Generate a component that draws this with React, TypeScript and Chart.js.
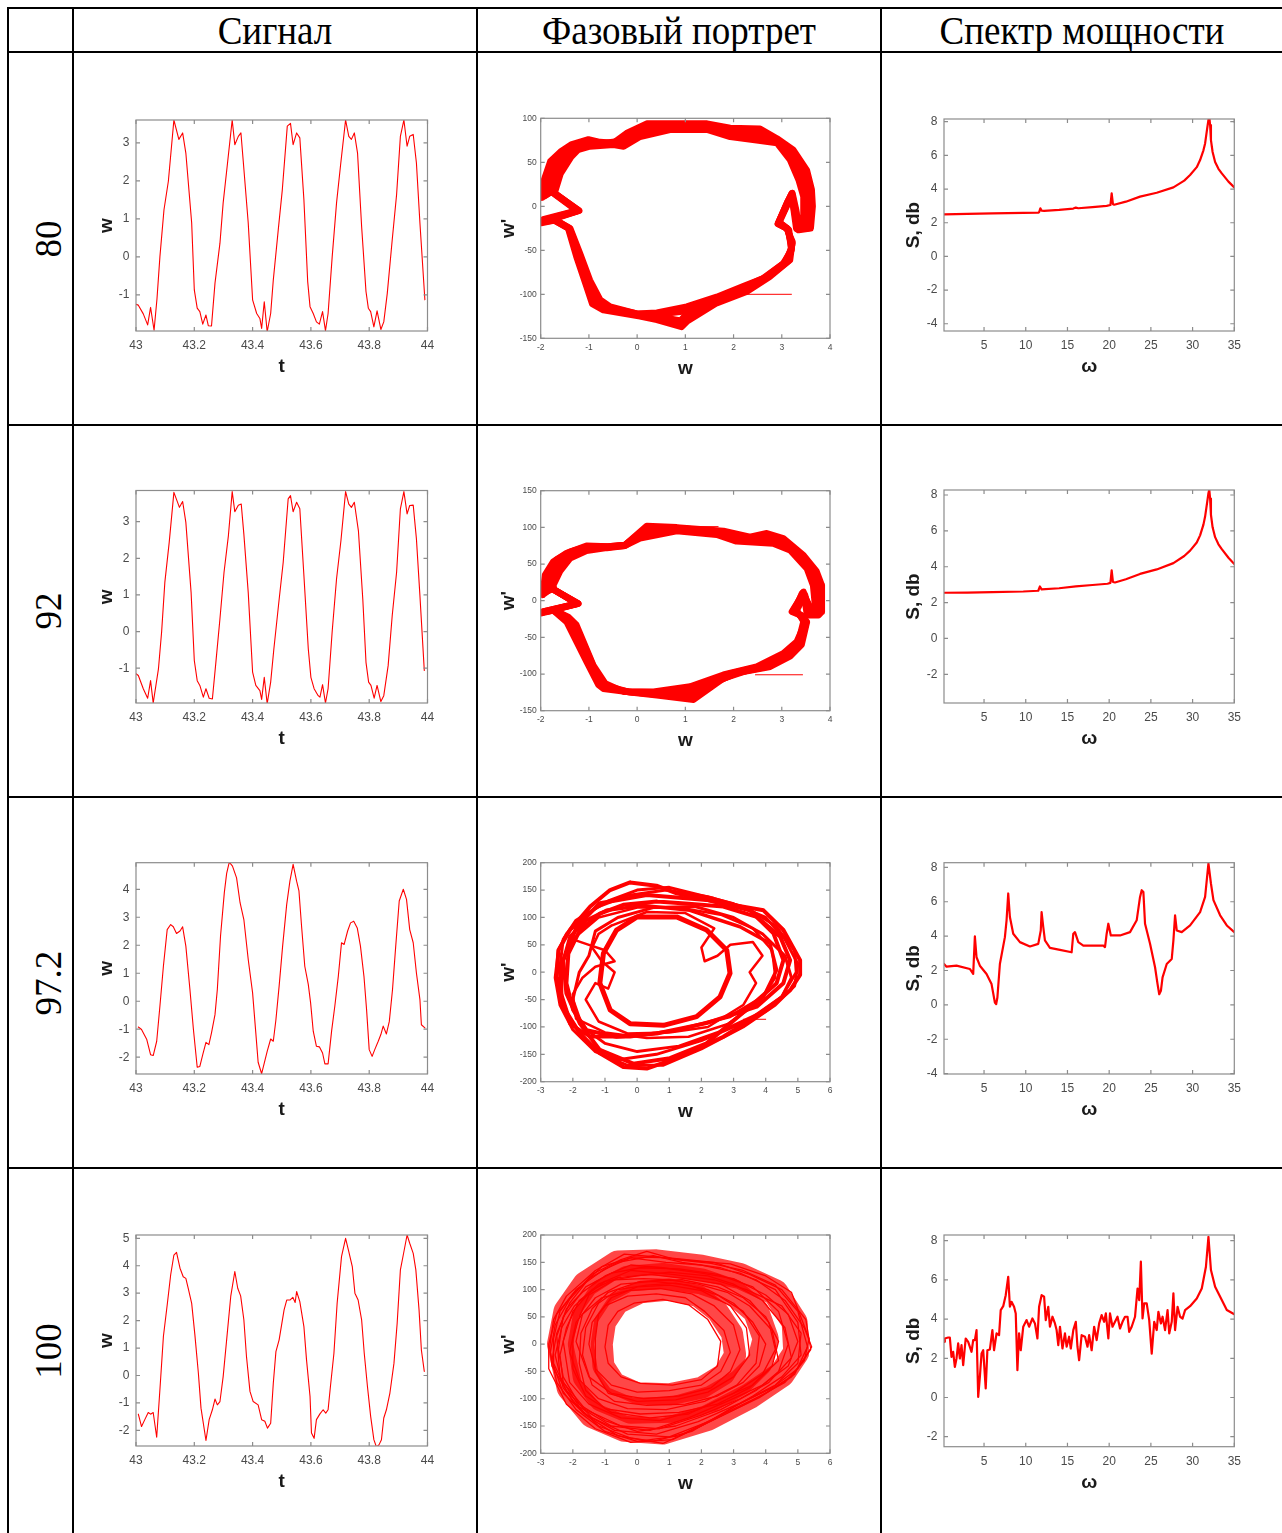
import React, { useEffect, useRef } from 'react';
import { Chart, registerables } from 'chart.js';

Chart.register(...registerables);
Chart.defaults.font.family = "'Liberation Sans', Arial, Helvetica, sans-serif";

type P = [number, number];

// ---------------- text ----------------
const HEADERS = ['Сигнал', 'Фазовый портрет', 'Спектр мощности'];
const ROW_LABELS = ['80', '92', '97.2', '100'];

// ---------------- ticks ----------------
const T_TICKS = [43, 43.2, 43.4, 43.6, 43.8, 44];
const W_TICKS_80 = [-1, 0, 1, 2, 3];
const W_TICKS_97 = [-2, -1, 0, 1, 2, 3, 4];
const W_TICKS_100 = [-2, -1, 0, 1, 2, 3, 4, 5];
const PH_X_TICKS_A = [-2, -1, 0, 1, 2, 3, 4];
const PH_Y_TICKS_80 = [-150, -100, -50, 0, 50, 100];
const PH_Y_TICKS_92 = [-150, -100, -50, 0, 50, 100, 150];
const PH_X_TICKS_B = [-3, -2, -1, 0, 1, 2, 3, 4, 5, 6];
const PH_Y_TICKS_B = [-200, -150, -100, -50, 0, 50, 100, 150, 200];
const OM_TICKS = [5, 10, 15, 20, 25, 30, 35];
const S_TICKS_A = [-4, -2, 0, 2, 4, 6, 8];
const S_TICKS_B = [-2, 0, 2, 4, 6, 8];

// ---------------- signals w(t) ----------------
const SIGNAL_80: P[] = [
  [43.0, -1.25], [43.008, -1.27], [43.025, -1.5], [43.04, -1.79], [43.05, -1.33], [43.062, -1.93], [43.072, -1.1],
  [43.082, 0.0], [43.096, 1.24], [43.111, 1.99], [43.13, 3.6], [43.147, 3.09], [43.16, 3.26], [43.171, 2.73],
  [43.191, 0.89], [43.2, -0.87], [43.21, -1.35], [43.219, -1.44], [43.229, -1.77], [43.24, -1.53], [43.248, -1.81],
  [43.259, -1.82], [43.271, -0.69], [43.288, 0.36], [43.299, 1.42], [43.314, 2.47], [43.33, 3.6], [43.339, 2.95],
  [43.351, 3.17], [43.36, 3.26], [43.368, 2.51], [43.385, 0.89], [43.4, -1.13], [43.414, -1.49], [43.425, -1.62],
  [43.431, -1.88], [43.44, -1.18], [43.45, -1.97], [43.462, -1.49], [43.471, -0.61], [43.488, 0.71], [43.502, 1.77],
  [43.519, 3.44], [43.53, 3.51], [43.539, 2.95], [43.551, 3.26], [43.562, 3.13], [43.576, 1.5], [43.589, -0.65],
  [43.597, -1.31], [43.608, -1.49], [43.619, -1.71], [43.629, -1.77], [43.64, -1.44], [43.65, -1.94], [43.659, -1.49],
  [43.673, 0.0], [43.688, 1.42], [43.702, 2.43], [43.719, 3.6], [43.73, 3.17], [43.739, 3.09], [43.749, 3.26],
  [43.76, 2.73], [43.774, 0.8], [43.789, -0.91], [43.797, -1.35], [43.805, -1.44], [43.816, -1.84], [43.827, -1.42],
  [43.84, -1.91], [43.85, -1.71], [43.862, -0.96], [43.879, 0.45], [43.894, 1.64], [43.907, 3.17], [43.919, 3.6],
  [43.93, 2.91], [43.939, 3.17], [43.951, 3.22], [43.962, 2.47], [43.974, 0.89], [43.991, -1.13],
];

const SIGNAL_92: P[] = [
  [43.0, -1.15], [43.008, -1.2], [43.025, -1.56], [43.04, -1.82], [43.05, -1.34], [43.059, -1.95], [43.077, -1.02],
  [43.088, 0.0], [43.099, 1.35], [43.114, 2.44], [43.13, 3.8], [43.149, 3.39], [43.16, 3.55], [43.171, 2.98],
  [43.189, 1.07], [43.2, -0.79], [43.21, -1.34], [43.219, -1.47], [43.231, -1.79], [43.24, -1.56], [43.251, -1.82],
  [43.262, -1.84], [43.274, -0.84], [43.288, 0.35], [43.302, 1.62], [43.317, 2.62], [43.33, 3.82], [43.339, 3.27],
  [43.351, 3.45], [43.361, 3.48], [43.37, 2.66], [43.385, 1.07], [43.4, -1.11], [43.411, -1.47], [43.425, -1.61],
  [43.431, -1.85], [43.44, -1.25], [43.45, -1.97], [43.462, -1.38], [43.473, -0.47], [43.49, 0.8], [43.505, 1.89],
  [43.522, 3.62], [43.53, 3.71], [43.539, 3.27], [43.551, 3.53], [43.562, 3.35], [43.576, 1.53], [43.591, -0.47],
  [43.6, -1.25], [43.611, -1.56], [43.625, -1.75], [43.631, -1.79], [43.64, -1.45], [43.65, -1.95], [43.659, -1.56],
  [43.673, 0.0], [43.688, 1.44], [43.703, 2.48], [43.719, 3.82], [43.73, 3.48], [43.739, 3.39], [43.749, 3.53],
  [43.763, 2.75], [43.778, 0.89], [43.789, -0.84], [43.798, -1.38], [43.806, -1.47], [43.817, -1.82], [43.827, -1.47],
  [43.84, -1.91], [43.85, -1.75], [43.865, -0.93], [43.879, 0.44], [43.894, 1.62], [43.907, 3.35], [43.919, 3.82],
  [43.93, 3.21], [43.939, 3.44], [43.951, 3.45], [43.962, 2.53], [43.974, 0.98], [43.989, -1.06],
];

const SIGNAL_97: P[] = [
  [43.008, -0.92], [43.019, -1.01], [43.037, -1.37], [43.05, -1.91], [43.059, -1.94], [43.071, -1.43], [43.082, -0.18],
  [43.094, 1.25], [43.107, 2.56], [43.119, 2.74], [43.128, 2.66], [43.139, 2.42], [43.151, 2.51], [43.16, 2.66],
  [43.171, 1.97], [43.185, 0.42], [43.197, -1.01], [43.21, -2.36], [43.219, -2.33], [43.229, -1.91], [43.24, -1.47],
  [43.25, -1.55], [43.259, -1.13], [43.271, -0.48], [43.279, 0.42], [43.29, 2.33], [43.303, 3.88], [43.311, 4.57],
  [43.32, 4.97], [43.331, 4.83], [43.345, 4.41], [43.357, 3.52], [43.37, 2.92], [43.385, 1.49], [43.4, 0.3],
  [43.411, -1.13], [43.419, -2.18], [43.431, -2.59], [43.44, -2.21], [43.45, -1.79], [43.462, -1.35], [43.471, -1.43],
  [43.48, -0.66], [43.491, 0.54], [43.503, 1.97], [43.517, 3.46], [43.528, 4.29], [43.539, 4.89], [43.551, 4.29],
  [43.559, 3.94], [43.568, 2.68], [43.579, 1.25], [43.591, 0.6], [43.599, -0.06], [43.608, -1.07], [43.619, -1.61],
  [43.629, -1.63], [43.64, -1.85], [43.648, -2.24], [43.659, -2.24], [43.671, -1.07], [43.682, -0.18], [43.694, 0.89],
  [43.705, 2.09], [43.714, 2.03], [43.726, 2.51], [43.736, 2.8], [43.747, 2.86], [43.759, 2.62], [43.77, 1.97],
  [43.782, 0.89], [43.791, -0.3], [43.8, -1.73], [43.81, -1.97], [43.819, -1.73], [43.831, -1.43], [43.84, -1.19],
  [43.848, -0.89], [43.859, -1.17], [43.869, -0.72], [43.88, 0.42], [43.891, 1.97], [43.903, 3.58], [43.917, 4.0],
  [43.928, 3.64], [43.939, 2.56], [43.951, 2.09], [43.962, 1.01], [43.974, 0.06], [43.979, -0.84], [43.991, -0.95],
];

const SIGNAL_100: P[] = [
  [43.008, -1.41], [43.019, -1.86], [43.031, -1.59], [43.042, -1.35], [43.05, -1.41], [43.059, -1.35], [43.071, -2.25],
  [43.082, -0.52], [43.094, 1.42], [43.107, 2.57], [43.119, 3.67], [43.13, 4.39], [43.139, 4.49], [43.151, 3.91],
  [43.162, 3.6], [43.171, 3.54], [43.179, 3.18], [43.191, 2.63], [43.202, 1.48], [43.214, 0.08], [43.223, -1.19],
  [43.24, -2.37], [43.251, -1.61], [43.262, -1.25], [43.271, -0.86], [43.279, -1.07], [43.288, -0.95], [43.299, -0.04],
  [43.311, 1.3], [43.325, 2.88], [43.339, 3.79], [43.349, 3.18], [43.359, 2.9], [43.37, 2.03], [43.379, 0.69],
  [43.391, -0.58], [43.402, -0.95], [43.419, -1.07], [43.431, -1.61], [43.442, -1.67], [43.451, -1.92], [43.462, -1.74],
  [43.471, -0.28], [43.48, 0.87], [43.491, 1.3], [43.508, 2.39], [43.517, 2.75], [43.528, 2.75], [43.538, 2.85],
  [43.546, 2.66], [43.551, 3.06], [43.562, 2.69], [43.576, 1.78], [43.585, 0.57], [43.597, -0.76], [43.602, -2.1],
  [43.611, -2.29], [43.619, -1.61], [43.631, -1.4], [43.642, -1.25], [43.651, -1.37], [43.659, -1.25], [43.667, -0.4],
  [43.679, 0.81], [43.69, 2.63], [43.705, 4.33], [43.719, 5.0], [43.73, 4.51], [43.742, 3.97], [43.751, 3.0],
  [43.762, 2.75], [43.774, 2.03], [43.783, 0.81], [43.794, -0.4], [43.805, -1.49], [43.816, -2.34], [43.825, -2.61],
  [43.834, -2.52], [43.842, -2.34], [43.85, -1.55], [43.859, -1.25], [43.871, -0.64], [43.885, 0.45], [43.896, 1.91],
  [43.907, 3.85], [43.919, 4.51], [43.93, 5.12], [43.939, 4.82], [43.951, 4.45], [43.96, 3.85], [43.971, 2.39],
  [43.979, 0.93], [43.989, 0.15],
];

// ---------------- phase portraits (w, w') ----------------
const PHASE80_OUTER: P[] = [
  [-1.97, 10], [-1.93, 30], [-1.8, 51], [-1.59, 62], [-1.37, 70], [-1.01, 76], [-0.77, 73], [-0.49, 72], [-0.22, 83],
  [0.2, 94], [0.8, 94], [1.45, 94], [1.93, 89], [2.55, 88], [2.9, 77], [3.24, 64], [3.52, 41], [3.62, 19], [3.64, 0],
  [3.6, -25], [3.35, -27], [3.3, -5], [3.22, 15], [3.12, 5], [2.92, -20], [3.1, -25], [3.22, -40], [3.17, -61],
  [2.75, -80], [2.27, -97], [1.65, -110], [1.03, -131], [0.92, -137], [0.41, -129], [0.06, -125], [-0.7, -118],
  [-0.93, -111], [-1.05, -91], [-1.26, -57], [-1.43, -25], [-1.71, -16], [-1.99, -19], [-1.2, -5], [-1.77, 17], [-1.97, 10],
];
const PHASE80_OUTER_MID: P[] = [
  [-1.91, 12], [-1.84, 33], [-1.7, 52], [-1.5, 63], [-1.0, 74], [-0.68, 72], [-0.37, 74], [0.18, 91], [0.8, 93],
  [1.45, 93], [1.93, 87], [2.52, 85], [2.9, 76], [3.22, 62], [3.49, 39], [3.59, 17], [3.6, -3], [3.55, -25],
  [3.32, -26], [3.28, -5], [3.21, 15], [3.11, 4], [2.92, -20], [3.11, -25], [3.22, -42], [3.14, -62], [2.72, -80],
  [2.25, -96], [1.65, -109], [1.02, -128], [0.91, -134], [0.4, -127], [0.03, -124], [-0.68, -117], [-0.89, -110],
  [-1.04, -90], [-1.24, -56], [-1.42, -25], [-1.72, -16], [-1.98, -18], [-1.21, -5], [-1.76, 17], [-1.91, 12],
];
const PHASE80_MID: P[] = [
  [-1.85, 15], [-1.75, 35], [-1.6, 52], [-1.4, 63], [-1.0, 72], [-0.6, 71], [-0.25, 76], [0.15, 88], [0.8, 91],
  [1.45, 91], [1.93, 84], [2.5, 81], [2.9, 75], [3.2, 59], [3.45, 36], [3.55, 15], [3.55, -5], [3.5, -24], [3.3, -25],
  [3.25, -5], [3.2, 14], [3.1, 2], [2.93, -19], [3.12, -26], [3.21, -45], [3.1, -63], [2.68, -81], [2.23, -94],
  [1.65, -107], [1.0, -124], [0.9, -130], [0.4, -125], [0.0, -123], [-0.65, -116], [-0.85, -108], [-1.02, -88],
  [-1.22, -55], [-1.41, -25], [-1.73, -15], [-1.97, -17], [-1.22, -5], [-1.75, 16], [-1.85, 15],
];
const PHASE80_INNER_MID: P[] = [
  [-1.77, 17], [-1.67, 36], [-1.49, 54], [-1.32, 63], [-0.99, 70], [-0.55, 70], [-0.27, 72], [0.1, 83], [0.75, 89],
  [1.45, 89], [1.93, 81], [2.49, 78], [2.9, 73], [3.19, 56], [3.4, 33], [3.5, 13], [3.5, -7], [3.42, -23],
  [3.29, -14], [3.2, 13], [3.1, 1], [2.94, -18], [3.13, -26], [3.2, -48], [3.06, -64], [2.65, -81], [2.21, -92],
  [1.65, -105], [1.02, -119], [0.41, -123], [0.0, -122], [-0.6, -115], [-0.81, -107], [-1.0, -86], [-1.2, -54],
  [-1.4, -25], [-1.74, -14], [-1.96, -16], [-1.23, -5], [-1.73, 15], [-1.77, 17],
];
const PHASE80_INNER: P[] = [
  [-1.69, 19], [-1.59, 37], [-1.37, 56], [-1.23, 64], [-0.98, 68], [-0.49, 70], [-0.28, 68], [0.06, 79], [0.68, 87],
  [1.45, 87], [1.93, 79], [2.48, 75], [2.9, 72], [3.17, 53], [3.35, 30], [3.45, 11], [3.45, -10], [3.35, -22],
  [3.28, -3], [3.2, 12], [3.1, 0], [2.95, -18], [3.15, -27], [3.2, -50], [3.03, -65], [2.61, -82], [2.2, -91],
  [1.65, -103], [1.03, -114], [0.41, -121], [-0.01, -122], [-0.56, -114], [-0.77, -106], [-0.98, -84], [-1.19, -53],
  [-1.39, -25], [-1.75, -14], [-1.95, -15], [-1.25, -5], [-1.72, 14], [-1.69, 19],
];
const PHASE80_LINE: P[] = [[2.27, -100], [3.2, -100]];

const PHASE92_OUTER: P[] = [
  [-1.96, 8], [-1.91, 35], [-1.74, 53], [-1.46, 65], [-1.05, 75], [-0.6, 74], [-0.25, 76], [0.2, 102], [0.82, 100],
  [1.79, 95], [2.34, 87], [2.69, 92], [3.03, 85], [3.45, 62], [3.72, 40], [3.83, 21], [3.83, -15], [3.76, -20],
  [3.55, -20], [3.5, 0], [3.45, 12], [3.35, 0], [3.21, -15], [3.4, -20], [3.52, -29], [3.41, -60], [3.17, -76],
  [2.76, -90], [2.2, -97], [1.79, -106], [1.17, -135], [0.41, -129], [-0.01, -126], [-0.7, -120], [-0.8, -115],
  [-1.05, -83], [-1.46, -29], [-1.74, -13], [-1.98, -17], [-1.22, -4], [-1.77, 17], [-1.96, 8],
];
const PHASE92_OUTER_MID: P[] = [
  [-1.9, 12], [-1.85, 38], [-1.67, 56], [-1.38, 67], [-1.02, 74], [-0.6, 74], [-0.25, 76], [0.18, 99], [0.82, 99],
  [1.75, 94], [2.27, 86], [2.72, 89], [3.07, 82], [3.48, 58], [3.71, 35], [3.79, 13], [3.77, -15], [3.64, -19],
  [3.5, 2], [3.44, 11], [3.34, -2], [3.23, -14], [3.42, -21], [3.51, -29], [3.39, -59], [3.14, -75], [2.68, -90],
  [2.1, -98], [1.65, -110], [1.16, -130], [0.4, -128], [-0.08, -125], [-0.7, -118], [-0.83, -108], [-1.1, -70],
  [-1.45, -27], [-1.74, -13], [-1.97, -16], [-1.22, -4], [-1.76, 16], [-1.9, 12],
];
const PHASE92_MID: P[] = [
  [-1.85, 15], [-1.8, 40], [-1.6, 58], [-1.3, 68], [-1.0, 72], [-0.6, 73], [-0.25, 76], [0.15, 95], [0.82, 98],
  [1.72, 93], [2.2, 84], [2.75, 86], [3.1, 78], [3.5, 53], [3.7, 30], [3.75, 5], [3.7, -15], [3.52, -18], [3.47, 5],
  [3.42, 10], [3.32, -5], [3.25, -14], [3.45, -22], [3.5, -30], [3.36, -58], [3.1, -74], [2.6, -90], [2.0, -100],
  [1.5, -115], [1.15, -126], [0.38, -127], [-0.15, -125], [-0.7, -117], [-0.85, -100], [-1.15, -58], [-1.45, -25],
  [-1.74, -13], [-1.97, -16], [-1.23, -4], [-1.75, 16], [-1.85, 15],
];
const PHASE92_INNER_MID: P[] = [
  [-1.8, 18], [-1.7, 40], [-1.5, 58], [-1.18, 68], [-0.82, 72], [-0.25, 75], [0.1, 90], [0.82, 96], [1.68, 91],
  [2.13, 82], [2.78, 82], [3.13, 73], [3.51, 48], [3.67, 25], [3.72, 0], [3.64, -15], [3.47, 6], [3.32, -9],
  [3.27, -13], [3.46, -26], [3.34, -57], [3.06, -73], [2.54, -90], [1.9, -100], [1.3, -116], [1.12, -121],
  [0.36, -125], [-0.2, -124], [-0.68, -115], [-0.88, -94], [-1.2, -45], [-1.44, -23], [-1.74, -12], [-1.96, -15],
  [-1.24, -4], [-1.73, 15], [-1.8, 18],
];
const PHASE92_INNER: P[] = [
  [-1.74, 21], [-1.6, 40], [-1.39, 58], [-1.05, 68], [-0.63, 72], [-0.25, 75], [0.06, 85], [0.82, 95], [1.65, 90],
  [2.06, 81], [2.82, 78], [3.17, 69], [3.52, 44], [3.65, 21], [3.69, -6], [3.58, -15], [3.48, 8], [3.31, -13],
  [3.48, -31], [3.31, -56], [3.03, -72], [2.48, -90], [1.79, -101], [1.1, -117], [0.34, -124], [-0.28, -124],
  [-0.66, -113], [-0.91, -88], [-1.26, -33], [-1.43, -22], [-1.75, -12], [-1.95, -15], [-1.25, -4], [-1.72, 15], [-1.74, 21],
];
const PHASE92_LINE_TOP: P[] = [[0.27, 101], [1.68, 101]];
const PHASE92_LINE_BOTTOM: P[] = [[2.45, -101], [3.43, -101]];

const PHASE97_L1: P[] = [
  [-0.22, 164], [0.6, 158], [1.23, 144], [2.5, 128], [3.93, 113], [4.55, 77], [5.07, 22], [5.07, -5], [4.76, -33],
  [4.03, -69], [2.68, -118], [1.23, -157], [0.3, -176], [-0.43, -173], [-1.16, -148], [-1.78, -112], [-2.3, -63],
  [-2.5, -8], [-2.45, 40], [-2.09, 77], [-1.46, 120], [-0.84, 150], [-0.22, 164],
];
const PHASE97_L2: P[] = [
  [0.61, 129], [1.6, 125], [2.68, 120], [3.72, 101], [4.45, 65], [4.76, 22], [4.55, -20], [3.72, -63], [2.16, -93],
  [0.61, -112], [-0.64, -118], [-1.57, -106], [-1.99, -69], [-2.2, -20], [-2.14, 34], [-1.78, 77], [-1.16, 107],
  [-0.43, 123], [0.61, 129],
];
const PHASE97_L3: P[] = [
  [-0.64, 77], [0, 101], [1.23, 101], [2.16, 77], [2.79, 40], [2.89, -2], [2.58, -45], [1.85, -81], [0.82, -97],
  [-0.22, -94], [-0.84, -69], [-1.16, -20], [-1.05, 34], [-0.64, 77],
];
const PHASE97_L4: P[] = [
  [-0.95, 113], [0.2, 122], [1.64, 113], [3.2, 83], [4.13, 53], [4.34, 4], [3.93, -45], [2.89, -81], [1.23, -106],
  [-0.22, -118], [-1.46, -118], [-2.09, -94], [-2.35, -51], [-2.35, 10], [-2.09, 65], [-1.57, 95], [-0.95, 113],
];
const PHASE97_L5: P[] = [
  [-1.88, 83], [-1.16, 126], [0.3, 141], [2.16, 132], [3.51, 113], [4.24, 71], [4.55, 22], [4.34, -20], [3.51, -63],
  [2.16, -130], [1.02, -157], [-0.12, -167], [-1.16, -142], [-1.78, -94], [-2.2, -39], [-2.3, 22], [-1.88, 83],
];
const PHASE97_L6: P[] = [
  [-0.8, 85], [0.3, 110], [1.5, 108], [2.4, 80], [2.0, 45], [2.1, 20], [2.5, 30], [2.9, 50], [3.6, 55], [3.9, 30],
  [3.5, 0], [3.7, -20], [3.3, -60], [2.2, -100], [1.0, -110], [-0.3, -112], [-1.2, -90], [-1.6, -50], [-1.3, -20],
  [-0.9, -30], [-0.7, 0], [-1.1, 20], [-1.4, 45], [-1.2, 70], [-0.8, 85],
];
const PHASE97_L7: P[] = [
  [-2.0, 60], [-1.5, 50], [-1.0, 40], [-0.7, 20], [-1.3, 10], [-1.7, -10], [-2.0, -40], [-1.9, -85], [-1.0, -110],
  [0.3, -120], [1.6, -118], [2.8, -95], [3.8, -55], [4.3, -10], [4.2, 40], [3.6, 80], [2.6, 105], [1.3, 118],
  [0.0, 118], [-1.2, 100], [-2.0, 60],
];
const PHASE97_L8: P[] = [
  [-1.5, 30], [-1.3, 75], [-0.6, 100], [0.5, 118], [1.8, 120], [3.0, 100], [3.9, 70], [4.6, 30], [4.8, -10],
  [4.5, -45], [3.8, -75], [2.6, -108], [1.3, -135], [0.0, -145], [-1.0, -130], [-1.7, -100], [-2.0, -50], [-1.8, 0], [-1.5, 30],
];
const PHASE97_L9: P[] = [
  [-2.4, 10], [-2.3, 60], [-1.9, 95], [-1.2, 120], [-0.3, 140], [0.9, 150], [2.2, 138], [3.4, 118], [4.3, 85],
  [4.9, 40], [4.95, 0], [4.5, -45], [3.4, -90], [2.0, -125], [0.6, -150], [-0.6, -160], [-1.5, -130], [-2.1, -85],
  [-2.4, -30], [-2.4, 10],
];
const PHASE97_L10: P[] = [
  [-2.55, -10], [-2.45, 40], [-2.2, 70], [-1.6, 105], [-0.9, 130], [0.0, 150], [1.0, 155], [2.0, 140], [3.0, 125],
  [4.0, 100], [4.6, 60], [5.0, 15], [4.9, -25], [4.3, -60], [3.3, -100], [2.0, -140], [0.8, -170], [-0.3, -170],
  [-1.3, -145], [-2.0, -105], [-2.4, -60], [-2.55, -10],
];
const PHASE97_LINE_TOP: P[] = [[1.44, 137], [2.37, 137]];
const PHASE97_LINE_BOTTOM: P[] = [[3.3, -86], [4.0, -86]];

const PHASE100_L1: P[] = [[-2.72, -5], [-2.6, 45], [-2.2, 88], [-1.3, 135], [-0.4, 165], [0.6, 160], [1.8, 152], [2.9, 147], [4.0, 125], [4.8, 95], [5.35, 10], [5.2, -30], [4.6, -70], [3.3, -112], [2.0, -150], [0.8, -182], [-0.2, -172], [-1.2, -150], [-2.0, -105], [-2.65, -40], [-2.72, -5]];
const PHASE100_L2: P[] = [[-2.6, 10], [-2.4, 60], [-1.9, 100], [-1.0, 138], [-0.2, 158], [0.9, 150], [2.0, 145], [3.2, 130], [4.3, 100], [5.0, 40], [5.1, -20], [4.5, -60], [3.6, -95], [2.3, -140], [1.0, -170], [-0.3, -165], [-1.4, -135], [-2.2, -85], [-2.6, -35], [-2.6, 10]];
const PHASE100_L3: P[] = [[-2.45, -10], [-2.3, 50], [-1.6, 105], [-0.8, 130], [0.1, 140], [1.3, 138], [2.5, 128], [3.6, 105], [4.4, 60], [4.7, 0], [4.4, -50], [3.7, -85], [2.6, -120], [1.2, -150], [0.0, -160], [-1.0, -140], [-1.8, -110], [-2.3, -60], [-2.45, -10]];
const PHASE100_L4: P[] = [[-2.3, 5], [-2.0, 60], [-1.4, 100], [-0.6, 122], [0.4, 128], [1.5, 120], [2.6, 110], [3.5, 80], [4.1, 40], [4.3, -10], [3.9, -55], [3.0, -90], [1.9, -120], [0.7, -140], [-0.5, -135], [-1.5, -110], [-2.1, -70], [-2.3, 5]];
const PHASE100_L5: P[] = [[-2.1, -15], [-1.9, 40], [-1.3, 85], [-0.5, 110], [0.5, 115], [1.6, 108], [2.5, 90], [3.3, 60], [3.8, 15], [3.7, -35], [3.1, -75], [2.1, -105], [0.9, -120], [-0.3, -118], [-1.2, -100], [-1.8, -65], [-2.1, -15]];
const PHASE100_L6: P[] = [[-1.9, 5], [-1.7, 55], [-1.1, 85], [-0.3, 98], [0.7, 102], [1.7, 92], [2.4, 70], [3.0, 35], [3.2, -10], [2.9, -50], [2.3, -80], [1.3, -95], [0.2, -100], [-0.8, -90], [-1.5, -60], [-1.9, 5]];
const PHASE100_L7: P[] = [[-1.5, 0], [-1.4, 40], [-1.0, 70], [-0.3, 88], [0.6, 92], [1.5, 85], [2.1, 60], [2.7, 25], [2.9, -15], [2.6, -50], [2.0, -75], [1.0, -85], [0.0, -88], [-0.8, -75], [-1.3, -45], [-1.5, 0]];
const PHASE100_L8: P[] = [[-2.65, -30], [-2.5, 20], [-2.1, 75], [-1.5, 120], [-0.6, 150], [0.5, 162], [1.4, 150], [2.6, 140], [3.7, 118], [4.6, 80], [5.2, 30], [5.43, -5], [5.0, -45], [4.2, -80], [3.0, -115], [1.7, -160], [0.5, -178], [-0.6, -168], [-1.6, -130], [-2.3, -90], [-2.65, -30]];
const PHASE100_L9: P[] = [[-2.2, 30], [-1.8, 80], [-1.0, 115], [0.0, 125], [1.0, 132], [2.2, 125], [3.0, 110], [3.9, 80], [4.6, 30], [4.8, -25], [4.1, -70], [3.2, -100], [2.0, -130], [0.7, -155], [-0.5, -150], [-1.6, -120], [-2.3, -70], [-2.4, -20], [-2.2, 30]];
const PHASE100_L10: P[] = [[-1.7, -20], [-1.6, 30], [-1.2, 75], [-0.6, 100], [0.3, 108], [1.2, 112], [2.2, 100], [3.0, 75], [3.6, 40], [4.0, 0], [3.8, -40], [3.3, -70], [2.5, -95], [1.5, -110], [0.3, -112], [-0.7, -105], [-1.4, -75], [-1.7, -20]];
const PHASE100_L11: P[] = [[-2.5, 15], [-2.2, 65], [-1.7, 95], [-1.0, 125], [-0.2, 145], [0.8, 140], [2.0, 130], [3.0, 120], [4.0, 90], [4.7, 55], [5.0, 5], [4.7, -40], [3.9, -75], [2.8, -105], [1.6, -135], [0.4, -158], [-0.8, -150], [-1.8, -115], [-2.4, -60], [-2.5, 15]];
const PHASE100_L12: P[] = [[-1.0, -5], [-0.9, 35], [-0.6, 60], [-0.1, 75], [0.8, 82], [1.6, 72], [2.2, 45], [2.6, 5], [2.5, -40], [2.0, -65], [1.1, -75], [0.1, -72], [-0.5, -60], [-0.9, -35], [-1.0, -5]];
const PHASE100_L13: P[] = [[-2.7, -15], [-2.55, 35], [-2.1, 82], [-1.4, 128], [-0.5, 155], [0.3, 170], [1.2, 155], [2.3, 148], [3.3, 135], [4.3, 108], [5.0, 60], [5.3, -5], [4.9, -55], [4.0, -90], [2.6, -130], [1.3, -168], [0.0, -178], [-1.0, -160], [-1.9, -120], [-2.5, -70], [-2.7, -15]];
const PHASE100_L14: P[] = [[-2.0, 10], [-1.8, 50], [-1.5, 90], [-0.7, 118], [0.2, 120], [1.0, 118], [1.9, 110], [2.8, 95], [3.5, 70], [4.2, 25], [4.4, -30], [3.6, -75], [2.6, -100], [1.6, -128], [0.4, -135], [-0.8, -125], [-1.6, -95], [-2.0, -45], [-2.0, 10]];
const PHASE100_L15: P[] = [[-2.55, -20], [-2.35, 30], [-1.95, 70], [-1.2, 110], [-0.2, 135], [1.1, 128], [2.4, 118], [3.4, 100], [4.5, 70], [5.1, 20], [5.0, -35], [4.3, -75], [3.2, -108], [1.9, -142], [0.6, -165], [-0.7, -158], [-1.7, -125], [-2.3, -80], [-2.55, -20]];
const PHASE100_L16: P[] = [[-1.3, 10], [-1.2, 55], [-0.8, 85], [0.0, 105], [1.0, 108], [2.0, 98], [2.9, 70], [3.4, 30], [3.5, -20], [3.0, -60], [2.2, -88], [1.2, -102], [0.0, -105], [-0.9, -90], [-1.3, -50], [-1.3, 10]];
const PHASE100_L17: P[] = [[-2.75, 0], [-2.5, 55], [-2.0, 92], [-1.1, 142], [-0.1, 160], [1.0, 158], [2.4, 150], [3.5, 128], [4.5, 100], [5.25, 45], [5.4, -10], [4.8, -60], [3.8, -98], [2.4, -138], [1.1, -175], [-0.2, -180], [-1.3, -155], [-2.2, -110], [-2.75, -45], [-2.75, 0]];
const PHASE100_L18: P[] = [[-1.8, -35], [-1.75, 20], [-1.4, 65], [-0.9, 95], [0.1, 115], [1.4, 118], [2.5, 105], [3.3, 85], [4.0, 50], [4.4, 5], [4.2, -40], [3.5, -80], [2.5, -110], [1.3, -125], [0.1, -128], [-1.0, -118], [-1.6, -85], [-1.8, -35]];
// dense-cloud backing strips (band centres)
const PHASE100_BAND_OUT: P[] = [[-2.4, 0], [-2.2, 60], [-1.6, 110], [-0.6, 148], [0.6, 150], [2.0, 140], [3.2, 125], [4.3, 95], [4.9, 40], [4.95, -15], [4.5, -55], [3.5, -95], [2.2, -135], [0.8, -160], [-0.4, -155], [-1.4, -130], [-2.1, -80], [-2.4, 0]];
const PHASE100_BAND_MID: P[] = [[-1.75, 0], [-1.6, 50], [-1.1, 95], [-0.3, 120], [0.8, 125], [2.0, 115], [3.0, 95], [3.7, 60], [4.0, 10], [3.8, -35], [3.2, -70], [2.3, -100], [1.1, -120], [-0.2, -122], [-1.1, -100], [-1.6, -60], [-1.75, 0]];
const PHASE100_BAND_IN: P[] = [[-1.1, 0], [-1.0, 40], [-0.6, 75], [0.1, 95], [1.0, 100], [1.9, 88], [2.5, 60], [2.95, 20], [3.05, -20], [2.7, -55], [2.0, -80], [1.0, -92], [0.0, -90], [-0.7, -72], [-1.05, -40], [-1.1, 0]];

// ---------------- power spectra S(ω), db ----------------
const SPEC_80: P[] = [
  [0.2, 2.5], [3, 2.52], [6, 2.55], [9.7, 2.59], [11.5, 2.6], [11.6, 2.62], [11.75, 2.85], [11.9, 2.72], [12.2, 2.7],
  [14, 2.76], [15.7, 2.84], [16.0, 2.9], [16.3, 2.86], [18, 2.93], [19.7, 3.0], [20.15, 3.05], [20.3, 3.75],
  [20.45, 3.1], [20.6, 3.07], [22, 3.25], [23.7, 3.55], [25.7, 3.78], [27.7, 4.1], [29.0, 4.5], [29.7, 4.83],
  [30.5, 5.3], [30.9, 5.72], [31.3, 6.3], [31.5, 6.71], [31.75, 7.6], [31.9, 8.1], [32.0, 8.3], [32.1, 7.8],
  [32.2, 6.9], [32.4, 6.2], [32.7, 5.6], [33.1, 5.2], [33.5, 4.93], [34.3, 4.44], [35, 4.1],
];
const SPEC_92: P[] = [
  [0.2, 2.55], [3, 2.56], [6, 2.58], [9.7, 2.62], [11.5, 2.66], [11.7, 2.9], [11.9, 2.74], [14, 2.8], [16, 2.9],
  [18, 2.98], [19.8, 3.05], [20.15, 3.1], [20.3, 3.8], [20.45, 3.15], [20.7, 3.12], [22, 3.3], [23.7, 3.6],
  [25.7, 3.85], [27.7, 4.2], [29.0, 4.6], [29.7, 4.9], [30.5, 5.35], [30.9, 5.75], [31.3, 6.35], [31.5, 6.8],
  [31.75, 7.6], [31.9, 8.1], [32.0, 8.3], [32.1, 7.8], [32.2, 6.9], [32.4, 6.2], [32.7, 5.65], [33.1, 5.25],
  [33.5, 4.98], [34.3, 4.5], [35, 4.15],
];
const SPEC_97: P[] = [
  [0.2, 2.38], [0.5, 2.22], [1.7, 2.28], [3.3, 2.09], [3.7, 1.8], [3.9, 3.98], [4.1, 2.77], [4.5, 2.28], [5.3, 1.8],
  [5.9, 1.21], [6.3, 0.14], [6.45, 0.04], [6.6, 0.43], [6.9, 2.38], [7.5, 3.94], [7.7, 4.92], [7.9, 6.48], [8.1, 5.11],
  [8.5, 4.14], [9.3, 3.65], [10.5, 3.4], [11.5, 3.55], [11.8, 4.33], [11.9, 5.4], [12.1, 4.53], [12.3, 3.75],
  [12.9, 3.32], [14.1, 3.2], [15.5, 3.06], [15.7, 4.14], [15.9, 4.23], [16.3, 3.65], [16.9, 3.45], [19.3, 3.45],
  [19.5, 3.36], [19.7, 4.14], [19.9, 4.72], [20.2, 4.04], [21.3, 4.04], [22.5, 4.23], [23.3, 4.92], [23.7, 6.28],
  [23.9, 6.67], [24.1, 6.57], [24.3, 4.72], [24.9, 3.55], [25.5, 2.19], [25.8, 1.21], [26.0, 0.62], [26.2, 0.82],
  [26.4, 1.6], [26.9, 2.38], [27.5, 2.67], [27.7, 3.75], [27.9, 5.21], [28.1, 4.33], [28.7, 4.23], [29.7, 4.62],
  [30.9, 5.4], [31.5, 6.28], [31.9, 8.23], [32.2, 7.06], [32.5, 6.09], [33.3, 5.21], [34.1, 4.62], [35.0, 4.23],
];
const SPEC_100: P[] = [
  [0.2, 2.84], [0.3, 3.01], [0.7, 3.06], [0.9, 3.06], [1.1, 2.07], [1.3, 2.33], [1.5, 1.56], [1.7, 1.99], [1.9, 2.76],
  [2.1, 1.99], [2.3, 2.67], [2.5, 1.65], [2.8, 3.01], [3.1, 2.84], [3.5, 2.33], [3.7, 2.93], [3.9, 2.93], [4.1, 3.44],
  [4.3, 0.03], [4.5, 1.05], [4.7, 2.24], [4.9, 2.41], [5.2, 0.46], [5.4, 2.41], [5.7, 2.45], [6.0, 3.44], [6.2, 2.41],
  [6.5, 3.27], [6.8, 3.18], [7.0, 4.46], [7.3, 4.66], [7.6, 5.22], [7.9, 6.16], [8.1, 4.63], [8.3, 4.88], [8.6, 4.63],
  [8.8, 4.29], [9.0, 1.39], [9.2, 3.27], [9.4, 2.41], [9.7, 3.61], [10.1, 3.95], [10.4, 3.61], [10.8, 4.03],
  [11.1, 3.78], [11.4, 3.01], [11.6, 4.63], [11.9, 5.22], [12.2, 5.14], [12.4, 3.95], [12.7, 4.63], [12.9, 3.61],
  [13.2, 4.12], [13.5, 3.78], [13.7, 3.44], [13.9, 2.67], [14.1, 3.61], [14.4, 2.5], [14.7, 3.27], [14.9, 2.59],
  [15.2, 3.1], [15.4, 2.5], [15.7, 3.44], [16.0, 3.86], [16.2, 2.59], [16.4, 1.9], [16.7, 3.18], [17.1, 3.1],
  [17.4, 2.59], [17.6, 3.18], [17.9, 2.41], [18.2, 3.61], [18.5, 2.93], [18.8, 3.78], [19.1, 4.2], [19.4, 3.86],
  [19.6, 4.29], [19.9, 3.01], [20.1, 4.29], [20.4, 3.61], [20.7, 3.86], [21.0, 4.12], [21.3, 3.52], [21.6, 3.86],
  [21.9, 4.12], [22.2, 4.12], [22.4, 3.35], [22.7, 3.61], [23.1, 4.12], [23.4, 5.56], [23.6, 4.97], [23.8, 6.93],
  [24.0, 4.03], [24.2, 4.8], [24.5, 4.8], [24.8, 3.95], [25.1, 2.24], [25.4, 3.86], [25.7, 3.44], [25.9, 4.37],
  [26.2, 3.78], [26.4, 4.12], [26.7, 3.44], [27.0, 4.46], [27.2, 3.27], [27.5, 3.86], [27.7, 5.31], [27.9, 3.44],
  [28.2, 4.63], [28.5, 4.12], [28.8, 4.03], [29.1, 4.46], [29.7, 4.66], [30.5, 5.05], [31.1, 5.56], [31.6, 6.67],
  [31.9, 8.2], [32.2, 6.5], [32.7, 5.65], [33.5, 4.97], [34.1, 4.46], [35.0, 4.25],
];

// ---------------- layout ----------------
interface Rect { l: number; t: number; r: number; b: number }
interface Series { data: P[]; width: number; color?: string }
interface Gaps { xl: number; yl: number; xt: number; yt: number }
interface Spec {
  cell: Rect;
  plot: Rect;
  xRange: [number, number];
  yRange: [number, number];
  xTicks: number[];
  yTicks: number[];
  xTitle: string;
  yTitle: string;
  tickSize: number;
  gaps: Gaps;
  series: Series[];
}

const COL_X = [8, 73, 477, 881];
const ROW_Y = [8, 52, 425, 797, 1168];
const PAGE_W = 1282;
const PAGE_H = 1533;
const CELL_COLS: [number, number][] = [[74, 476], [478, 880], [882, 1282]];
const CELL_ROWS: [number, number][] = [[53, 424], [426, 796], [798, 1167], [1169, 1533]];

const SIG_PLOT_Y: [number, number][] = [[120, 331], [490.5, 703], [862.7, 1074], [1235, 1446]];
const PH_PLOT_Y: [number, number][] = [[118.3, 338.3], [490.7, 710.7], [862.7, 1081.7], [1235, 1453.3]];
const SP_PLOT_Y: [number, number][] = [[119, 331], [490, 703], [862.7, 1074], [1235, 1446.7]];

const SIG_GAPS: Gaps = { xl: 14.7, yl: 6.5, xt: 35.7, yt: 29.3 };
const PH_GAPS: Gaps = { xl: 9, yl: 4, xt: 30.5, yt: 32.4 };
const SP_GAPS: Gaps = { xl: 14.7, yl: 6.7, xt: 35.7, yt: 30 };

function cell(col: number, row: number): Rect {
  return { l: CELL_COLS[col][0], r: CELL_COLS[col][1], t: CELL_ROWS[row][0], b: CELL_ROWS[row][1] };
}

const BAND_RED = 'rgba(255,0,0,0.72)';
const BAND_W = 6.5;

const SIGNALS = [SIGNAL_80, SIGNAL_92, SIGNAL_97, SIGNAL_100];
const SIG_Y_RANGES: [number, number][] = [[-1.95, 3.6], [-1.95, 3.85], [-2.6, 4.95], [-2.57, 5.12]];
const SIG_Y_TICKS = [W_TICKS_80, W_TICKS_80, W_TICKS_97, W_TICKS_100];

const PHASES: Series[][] = [
  [
    ...[PHASE80_OUTER, PHASE80_OUTER_MID, PHASE80_MID, PHASE80_INNER_MID, PHASE80_INNER].map((d) => ({ data: d, width: BAND_W })),
    { data: PHASE80_LINE, width: 1 },
  ],
  [
    ...[PHASE92_OUTER, PHASE92_OUTER_MID, PHASE92_MID, PHASE92_INNER_MID, PHASE92_INNER].map((d) => ({ data: d, width: BAND_W })),
    { data: PHASE92_LINE_TOP, width: 1 }, { data: PHASE92_LINE_BOTTOM, width: 1 },
  ],
  [
    { data: PHASE97_L1, width: 4 }, { data: PHASE97_L2, width: 4 }, { data: PHASE97_L3, width: 5 },
    { data: PHASE97_L4, width: 3.5 }, { data: PHASE97_L5, width: 4 }, { data: PHASE97_L6, width: 2.5 },
    { data: PHASE97_L7, width: 2.5 }, { data: PHASE97_L8, width: 3 }, { data: PHASE97_L9, width: 3 },
    { data: PHASE97_L10, width: 3 },
    { data: PHASE97_LINE_TOP, width: 1 }, { data: PHASE97_LINE_BOTTOM, width: 1 },
  ],
  [
    { data: PHASE100_BAND_OUT, width: 26, color: BAND_RED },
    { data: PHASE100_BAND_MID, width: 26, color: BAND_RED },
    { data: PHASE100_BAND_IN, width: 22, color: BAND_RED },
    ...[
      PHASE100_L1, PHASE100_L2, PHASE100_L3, PHASE100_L4, PHASE100_L5, PHASE100_L6, PHASE100_L7, PHASE100_L8,
      PHASE100_L9, PHASE100_L10, PHASE100_L11, PHASE100_L12, PHASE100_L13, PHASE100_L14, PHASE100_L15,
      PHASE100_L16, PHASE100_L17, PHASE100_L18,
    ].map((d) => ({ data: d, width: 1.3 })),
  ],
];
const PH_X_RANGES: [number, number][] = [[-2, 4], [-2, 4], [-3, 6], [-3, 6]];
const PH_Y_RANGES: [number, number][] = [[-150, 100], [-150, 150], [-200, 200], [-200, 200]];
const PH_X_TICKS = [PH_X_TICKS_A, PH_X_TICKS_A, PH_X_TICKS_B, PH_X_TICKS_B];
const PH_Y_TICKS = [PH_Y_TICKS_80, PH_Y_TICKS_92, PH_Y_TICKS_B, PH_Y_TICKS_B];

const SPECTRA = [SPEC_80, SPEC_92, SPEC_97, SPEC_100];
const SP_Y_RANGES: [number, number][] = [[-4.43, 8.16], [-3.6, 8.28], [-4.02, 8.27], [-2.51, 8.29]];
const SP_Y_TICKS = [S_TICKS_A, S_TICKS_B, S_TICKS_A, S_TICKS_B];

const SPECS: Spec[] = [];
for (let r = 0; r < 4; r++) {
  SPECS.push({
    cell: cell(0, r),
    plot: { l: 136, r: 427.5, t: SIG_PLOT_Y[r][0], b: SIG_PLOT_Y[r][1] },
    xRange: [43, 44],
    yRange: SIG_Y_RANGES[r],
    xTicks: T_TICKS,
    yTicks: SIG_Y_TICKS[r],
    xTitle: 't',
    yTitle: 'w',
    tickSize: 12,
    gaps: SIG_GAPS,
    series: [{ data: SIGNALS[r], width: 1.1 }],
  });
  SPECS.push({
    cell: cell(1, r),
    plot: { l: 540.7, r: 830, t: PH_PLOT_Y[r][0], b: PH_PLOT_Y[r][1] },
    xRange: PH_X_RANGES[r],
    yRange: PH_Y_RANGES[r],
    xTicks: PH_X_TICKS[r],
    yTicks: PH_Y_TICKS[r],
    xTitle: 'w',
    yTitle: "w'",
    tickSize: 8.5,
    gaps: PH_GAPS,
    series: PHASES[r],
  });
  SPECS.push({
    cell: cell(2, r),
    plot: { l: 944, r: 1234.3, t: SP_PLOT_Y[r][0], b: SP_PLOT_Y[r][1] },
    xRange: [0.2, 35],
    yRange: SP_Y_RANGES[r],
    xTicks: OM_TICKS,
    yTicks: SP_Y_TICKS[r],
    xTitle: 'ω',
    yTitle: 'S, db',
    tickSize: 12,
    gaps: SP_GAPS,
    series: [{ data: SPECTRA[r], width: 2.2 }],
  });
}

const TITLE_SIZE = 19;

const boxPlugin = {
  id: 'matlabBox',
  afterDatasetsDraw(chart: any) {
    const { ctx, chartArea: a, scales } = chart;
    const xs = scales.x;
    const ys = scales.y;
    ctx.save();
    ctx.strokeStyle = '#8c8c8c';
    ctx.lineWidth = 1.2;
    ctx.strokeRect(a.left, a.top, a.right - a.left, a.bottom - a.top);
    ctx.beginPath();
    const tl = 4;
    xs.ticks.forEach((t: any) => {
      const px = xs.getPixelForValue(t.value);
      ctx.moveTo(px, a.bottom);
      ctx.lineTo(px, a.bottom - tl);
      ctx.moveTo(px, a.top);
      ctx.lineTo(px, a.top + tl);
    });
    ys.ticks.forEach((t: any) => {
      const py = ys.getPixelForValue(t.value);
      ctx.moveTo(a.left, py);
      ctx.lineTo(a.left + tl, py);
      ctx.moveTo(a.right, py);
      ctx.lineTo(a.right - tl, py);
    });
    ctx.stroke();
    ctx.restore();
  },
};

function PlotCell({ spec }: { spec: Spec }) {
  const ref = useRef<HTMLCanvasElement | null>(null);
  const w = spec.cell.r - spec.cell.l;
  const h = spec.cell.b - spec.cell.t;
  useEffect(() => {
    const s = spec;
    const W = s.plot.l - s.cell.l;
    const H = s.cell.b - s.plot.b;
    const tickLH = s.tickSize * 1.2;
    const chart = new Chart(ref.current as HTMLCanvasElement, {
      type: 'scatter',
      data: {
        datasets: s.series.map((ser) => ({
          data: ser.data.map(([x, y]) => ({ x, y })),
          showLine: true,
          borderColor: ser.color ?? '#ff0000',
          backgroundColor: ser.color ?? '#ff0000',
          borderWidth: ser.width,
          pointRadius: 0,
          pointHoverRadius: 0,
          tension: 0,
          fill: false,
          borderJoinStyle: 'round',
          borderCapStyle: 'round',
        })),
      },
      options: {
        responsive: false,
        animation: false,
        devicePixelRatio: 1,
        events: [],
        layout: { padding: { left: 0, top: s.plot.t - s.cell.t, right: s.cell.r - s.plot.r, bottom: 0 } },
        plugins: { legend: { display: false }, tooltip: { enabled: false } },
        scales: {
          x: {
            type: 'linear',
            position: 'bottom',
            min: s.xRange[0],
            max: s.xRange[1],
            grid: { display: false, drawTicks: false },
            border: { display: false },
            afterBuildTicks: (sc: any) => { sc.ticks = s.xTicks.map((v) => ({ value: v })); },
            afterFit: (sc: any) => { sc.height = H; },
            ticks: {
              padding: s.gaps.xl - tickLH / 2,
              font: { size: s.tickSize },
              color: '#4a4a4a',
              maxRotation: 0,
              autoSkip: false,
              callback: (v: any) => String(v),
            },
            title: {
              display: true,
              text: s.xTitle,
              color: '#1a1a1a',
              font: { size: TITLE_SIZE, weight: 'bold', lineHeight: 1.2 },
              padding: { top: 0, bottom: H - s.gaps.xt - TITLE_SIZE * 0.6 },
            },
          },
          y: {
            type: 'linear',
            position: 'left',
            min: s.yRange[0],
            max: s.yRange[1],
            grid: { display: false, drawTicks: false },
            border: { display: false },
            afterBuildTicks: (sc: any) => { sc.ticks = s.yTicks.map((v) => ({ value: v })); },
            afterFit: (sc: any) => { sc.width = W; },
            ticks: {
              padding: s.gaps.yl,
              font: { size: s.tickSize },
              color: '#4a4a4a',
              autoSkip: false,
              callback: (v: any) => String(v),
            },
            title: {
              display: true,
              text: s.yTitle,
              color: '#1a1a1a',
              font: { size: TITLE_SIZE, weight: 'bold', lineHeight: 1.2 },
              padding: { top: W - s.gaps.yt - TITLE_SIZE * 0.6, bottom: 0 },
            },
          },
        },
      } as any,
      plugins: [boxPlugin],
    });
    return () => chart.destroy();
  }, [spec]);
  return (
    <canvas
      ref={ref}
      width={w}
      height={h}
      style={{ position: 'absolute', left: spec.cell.l, top: spec.cell.t, width: w, height: h }}
    />
  );
}

const SERIF = "'Liberation Serif', 'Times New Roman', serif";

export default function App() {
  const lines: React.ReactNode[] = [];
  COL_X.forEach((x, i) => {
    lines.push(
      <div key={'v' + i} style={{ position: 'absolute', left: x - 1, top: ROW_Y[0] - 1, width: 2, height: PAGE_H - ROW_Y[0] + 1, background: '#000' }} />
    );
  });
  ROW_Y.forEach((y, i) => {
    lines.push(
      <div key={'h' + i} style={{ position: 'absolute', left: COL_X[0] - 1, top: y - 1, width: PAGE_W - COL_X[0] + 1, height: 2, background: '#000' }} />
    );
  });
  const headerCenters = [275, 679, 1082];
  return (
    <div style={{ position: 'absolute', left: 0, top: 0, width: PAGE_W, height: PAGE_H, overflow: 'hidden', background: '#fff' }}>
      {lines}
      {HEADERS.map((t, i) => (
        <div
          key={'hd' + i}
          style={{
            position: 'absolute', left: headerCenters[i] - 200, top: 12, width: 400, height: 37,
            textAlign: 'center', fontFamily: SERIF, fontSize: 37, lineHeight: '37px', color: '#000', whiteSpace: 'nowrap',
            transform: 'scaleY(1.06)',
          }}
        >
          {t}
        </div>
      ))}
      {ROW_LABELS.map((t, i) => {
        const cy = (CELL_ROWS[i][0] + Math.min(CELL_ROWS[i][1], 1540)) / 2;
        return (
          <div
            key={'rl' + i}
            style={{
              position: 'absolute', left: 48.5 - 60, top: cy - 19, width: 120, height: 38,
              textAlign: 'center', fontFamily: SERIF, fontSize: 37, lineHeight: '38px', color: '#000',
              transform: 'rotate(-90deg)', transformOrigin: '50% 50%', whiteSpace: 'nowrap',
            }}
          >
            {t}
          </div>
        );
      })}
      {SPECS.map((s, i) => (
        <PlotCell key={i} spec={s} />
      ))}
    </div>
  );
}
